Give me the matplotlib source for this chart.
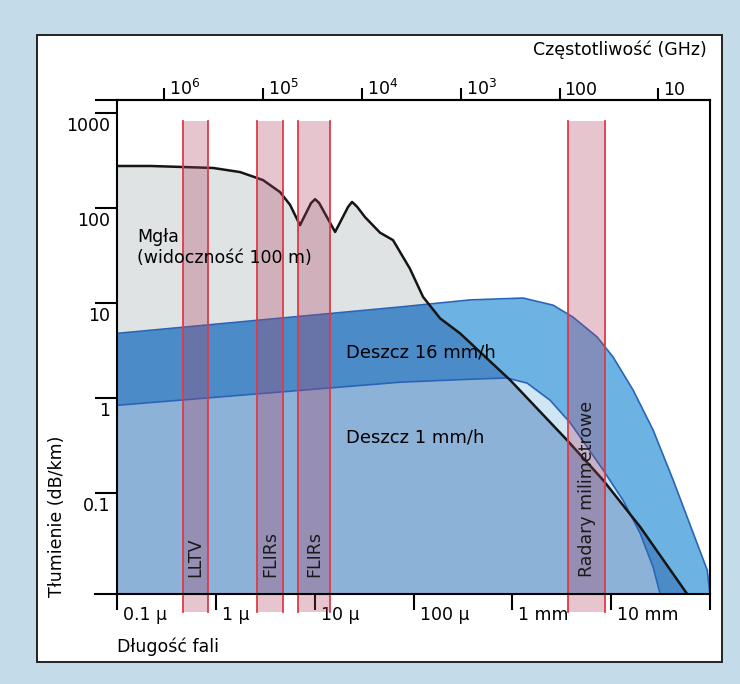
import numpy as np
import matplotlib.pyplot as plt
from matplotlib import transforms
from matplotlib.patches import Rectangle
from matplotlib.ticker import NullLocator

plt.rcParams['font.family'] = ['DejaVu Sans']
plt.rcParams['mathtext.fontset'] = 'dejavusans'

# fog (visibility 100 m): wavelength in micrometres, attenuation dB/km
wl_fog = [0.1, 0.22, 0.94, 1.76, 3.0, 4.47, 5.64, 7.1, 9.2, 10.1, 11.1, 16.1,
          21.8, 23.9, 26.9, 32.4, 45.9, 62, 92, 125, 186, 296, 950, 3590,
          8300, 19700, 58700]
att_fog = [277, 277, 264, 239, 197, 147, 108, 66, 113, 124, 113, 56,
           103, 116, 103, 80, 55, 46, 23, 11.6, 6.9, 4.8, 1.55, 0.36,
           0.137, 0.044, 0.0087]

# rain 16 mm/h
wl_r16 = [0.1, 73, 374, 1285, 2590, 4120, 7210, 10470, 16700, 26600, 42400,
          67600, 93700, 1e5]
att_r16 = [4.8, 9.1, 10.8, 11.3, 9.5, 7.1, 4.4, 2.7, 1.21, 0.46, 0.137,
           0.038, 0.0155, 0.0087]

# rain 1 mm/h
wl_r1 = [0.1, 73, 374, 880, 1410, 2410, 3850, 5720, 8300, 13200, 19600,
         26600, 31300]
att_r1 = [0.84, 1.47, 1.58, 1.63, 1.44, 0.95, 0.55, 0.305, 0.175, 0.084,
          0.038, 0.0166, 0.0087]

# sensor windows
band_names = ['LLTV', 'FLIRs', 'FLIRs', 'Radary milimetrowe']
band_lo = [0.46, 2.6, 6.8, 3670]
band_hi = [0.84, 4.8, 14.3, 8700]

y_ticks = [0.1, 1, 10, 100, 1000]
y_labels = ['0.1', '1', '10', '100', '1000']
x_ticks = [0.1, 1, 10, 100, 1e3, 1e4, 1e5]
x_labels = ['0.1 µ', '1 µ', '10 µ', '100 µ', '1 mm', '10 mm']
f_ticks = [1e6, 1e5, 1e4, 1e3, 100, 10]
f_labels = [r'$10^6$', r'$10^5$', r'$10^4$', r'$10^3$', '100', '10']

C_FOG = '#dfe3e3'
C_R16 = '#6cb2e3'
C_R16_FOG = '#4a8bc8'
C_R1 = '#cfe6f5'
C_R1_FOG = '#8db2d8'
C_EDGE = '#2a64b8'
FS = 12.5
Y_MIN, Y_MAX = 0.0087, 1370


def wl2f(x):
    with np.errstate(divide='ignore'):
        return 3e5 / np.asarray(x, dtype=float)


fig = plt.figure(figsize=(7.4, 6.84), dpi=100)
fig.patch.set_facecolor('#c4dcea')
fig.add_artist(Rectangle((0.05, 0.0322), 0.9257, 0.9167, transform=fig.transFigure,
                         facecolor='white', edgecolor='#222222', lw=1.4, zorder=-1))

ax = fig.add_axes([0.1581, 0.1316, 0.8014, 0.7222])
ax.set_facecolor('white')
ax.set_xscale('log')
ax.set_yscale('log')
ax.set_xlim(0.1, 1e5)
ax.set_ylim(Y_MIN, Y_MAX)

fog = ax.fill_between(wl_fog, att_fog, Y_MIN, color=C_FOG, lw=0, zorder=1)
fog_path = fog.get_paths()[0]

ax.fill_between(wl_r16, att_r16, Y_MIN, color=C_R16, lw=0, zorder=2)
r16d = ax.fill_between(wl_r16, att_r16, Y_MIN, color=C_R16_FOG, lw=0, zorder=3)
r16d.set_clip_path(fog_path, ax.transData)
ax.fill_between(wl_r1, att_r1, Y_MIN, color=C_R1, lw=0, zorder=4)
r1d = ax.fill_between(wl_r1, att_r1, Y_MIN, color=C_R1_FOG, lw=0, zorder=5)
r1d.set_clip_path(fog_path, ax.transData)

ax.plot(wl_r16, att_r16, color=C_EDGE, lw=1.2, zorder=6)
ax.plot(wl_r1, att_r1, color=C_EDGE, lw=1.2, zorder=6)
ax.plot(wl_fog, att_fog, color='#151515', lw=1.8, zorder=7)

for lo, hi, name in zip(band_lo, band_hi, band_names):
    ax.add_patch(Rectangle((lo, 0.0056), hi - lo, 824 - 0.0056, facecolor='#b0405f',
                           alpha=0.3, lw=0, clip_on=False, zorder=8))
    for xb in (lo, hi):
        ax.plot([xb, xb], [0.0056, 824], color='#dd3a4a', lw=1.3, clip_on=False, zorder=9)
    ax.text(np.sqrt(lo * hi), 0.013, name, rotation=90, ha='center', va='bottom',
            fontsize=FS, color='#1a1a1a', zorder=10)

ax.text(0.16, 50, 'Mgła', fontsize=FS, va='center', zorder=10)
ax.text(0.16, 29.5, '(widoczność 100 m)', fontsize=FS, va='center', zorder=10)
ax.text(20.8, 3.0, 'Deszcz 16 mm/h', fontsize=13, va='center', zorder=10)
ax.text(20.8, 0.39, 'Deszcz 1 mm/h', fontsize=13, va='center', zorder=10)

# axes, ticks
for s in ax.spines.values():
    s.set_linewidth(1.5)
    s.set_zorder(11)
ax.set_yticks(y_ticks)
ax.yaxis.set_minor_locator(NullLocator())
ax.set_xticks(x_ticks)
ax.xaxis.set_minor_locator(NullLocator())
ax.tick_params(axis='y', direction='out', length=15.8, width=1.5, labelleft=False)
ax.tick_params(axis='x', direction='out', length=11.5, width=1.5, labelbottom=False)
ax.plot([-0.035, 0], [1, 1], transform=ax.transAxes, color='k', lw=1.5, clip_on=False)
ax.plot([-0.037, 0], [0, 0], transform=ax.transAxes, color='k', lw=1.5, clip_on=False)

ytrans = transforms.offset_copy(transforms.blended_transform_factory(ax.transAxes, ax.transData),
                                fig=fig, x=0, y=-4, units='dots')
for v, lab in zip(y_ticks, y_labels):
    ax.text(-0.012, v, lab, transform=ytrans, ha='right', va='top', fontsize=FS)

xtrans = transforms.offset_copy(transforms.blended_transform_factory(ax.transData, ax.transAxes),
                                fig=fig, x=6, y=-12, units='dots')
for v, lab in zip(x_ticks[:-1], x_labels):
    ax.text(v, 0, lab, transform=xtrans, ha='left', va='top', fontsize=FS)

secax = ax.secondary_xaxis('top', functions=(wl2f, wl2f))
secax.set_xticks(f_ticks)
secax.xaxis.set_minor_locator(NullLocator())
secax.tick_params(direction='out', length=9, width=1.5, labeltop=False)
secax.spines['top'].set_linewidth(1.5)

ftrans = transforms.offset_copy(transforms.blended_transform_factory(ax.transData, ax.transAxes),
                                fig=fig, x=5, y=1, units='dots')
for f, lab in zip(f_ticks, f_labels):
    ax.text(3e5 / f, 1, lab, transform=ftrans, ha='left', va='bottom', fontsize=FS)

fig.text(0.9554, 0.9269, 'Częstotliwość (GHz)', ha='right', va='center', fontsize=FS)
fig.text(0.077, 0.2456, 'Tłumienie (dB/km)', rotation=90, ha='center', va='center', fontsize=FS)
fig.text(0.158, 0.0541, 'Długość fali', ha='left', va='center', fontsize=FS)

fig.savefig('out.png', dpi=100)
